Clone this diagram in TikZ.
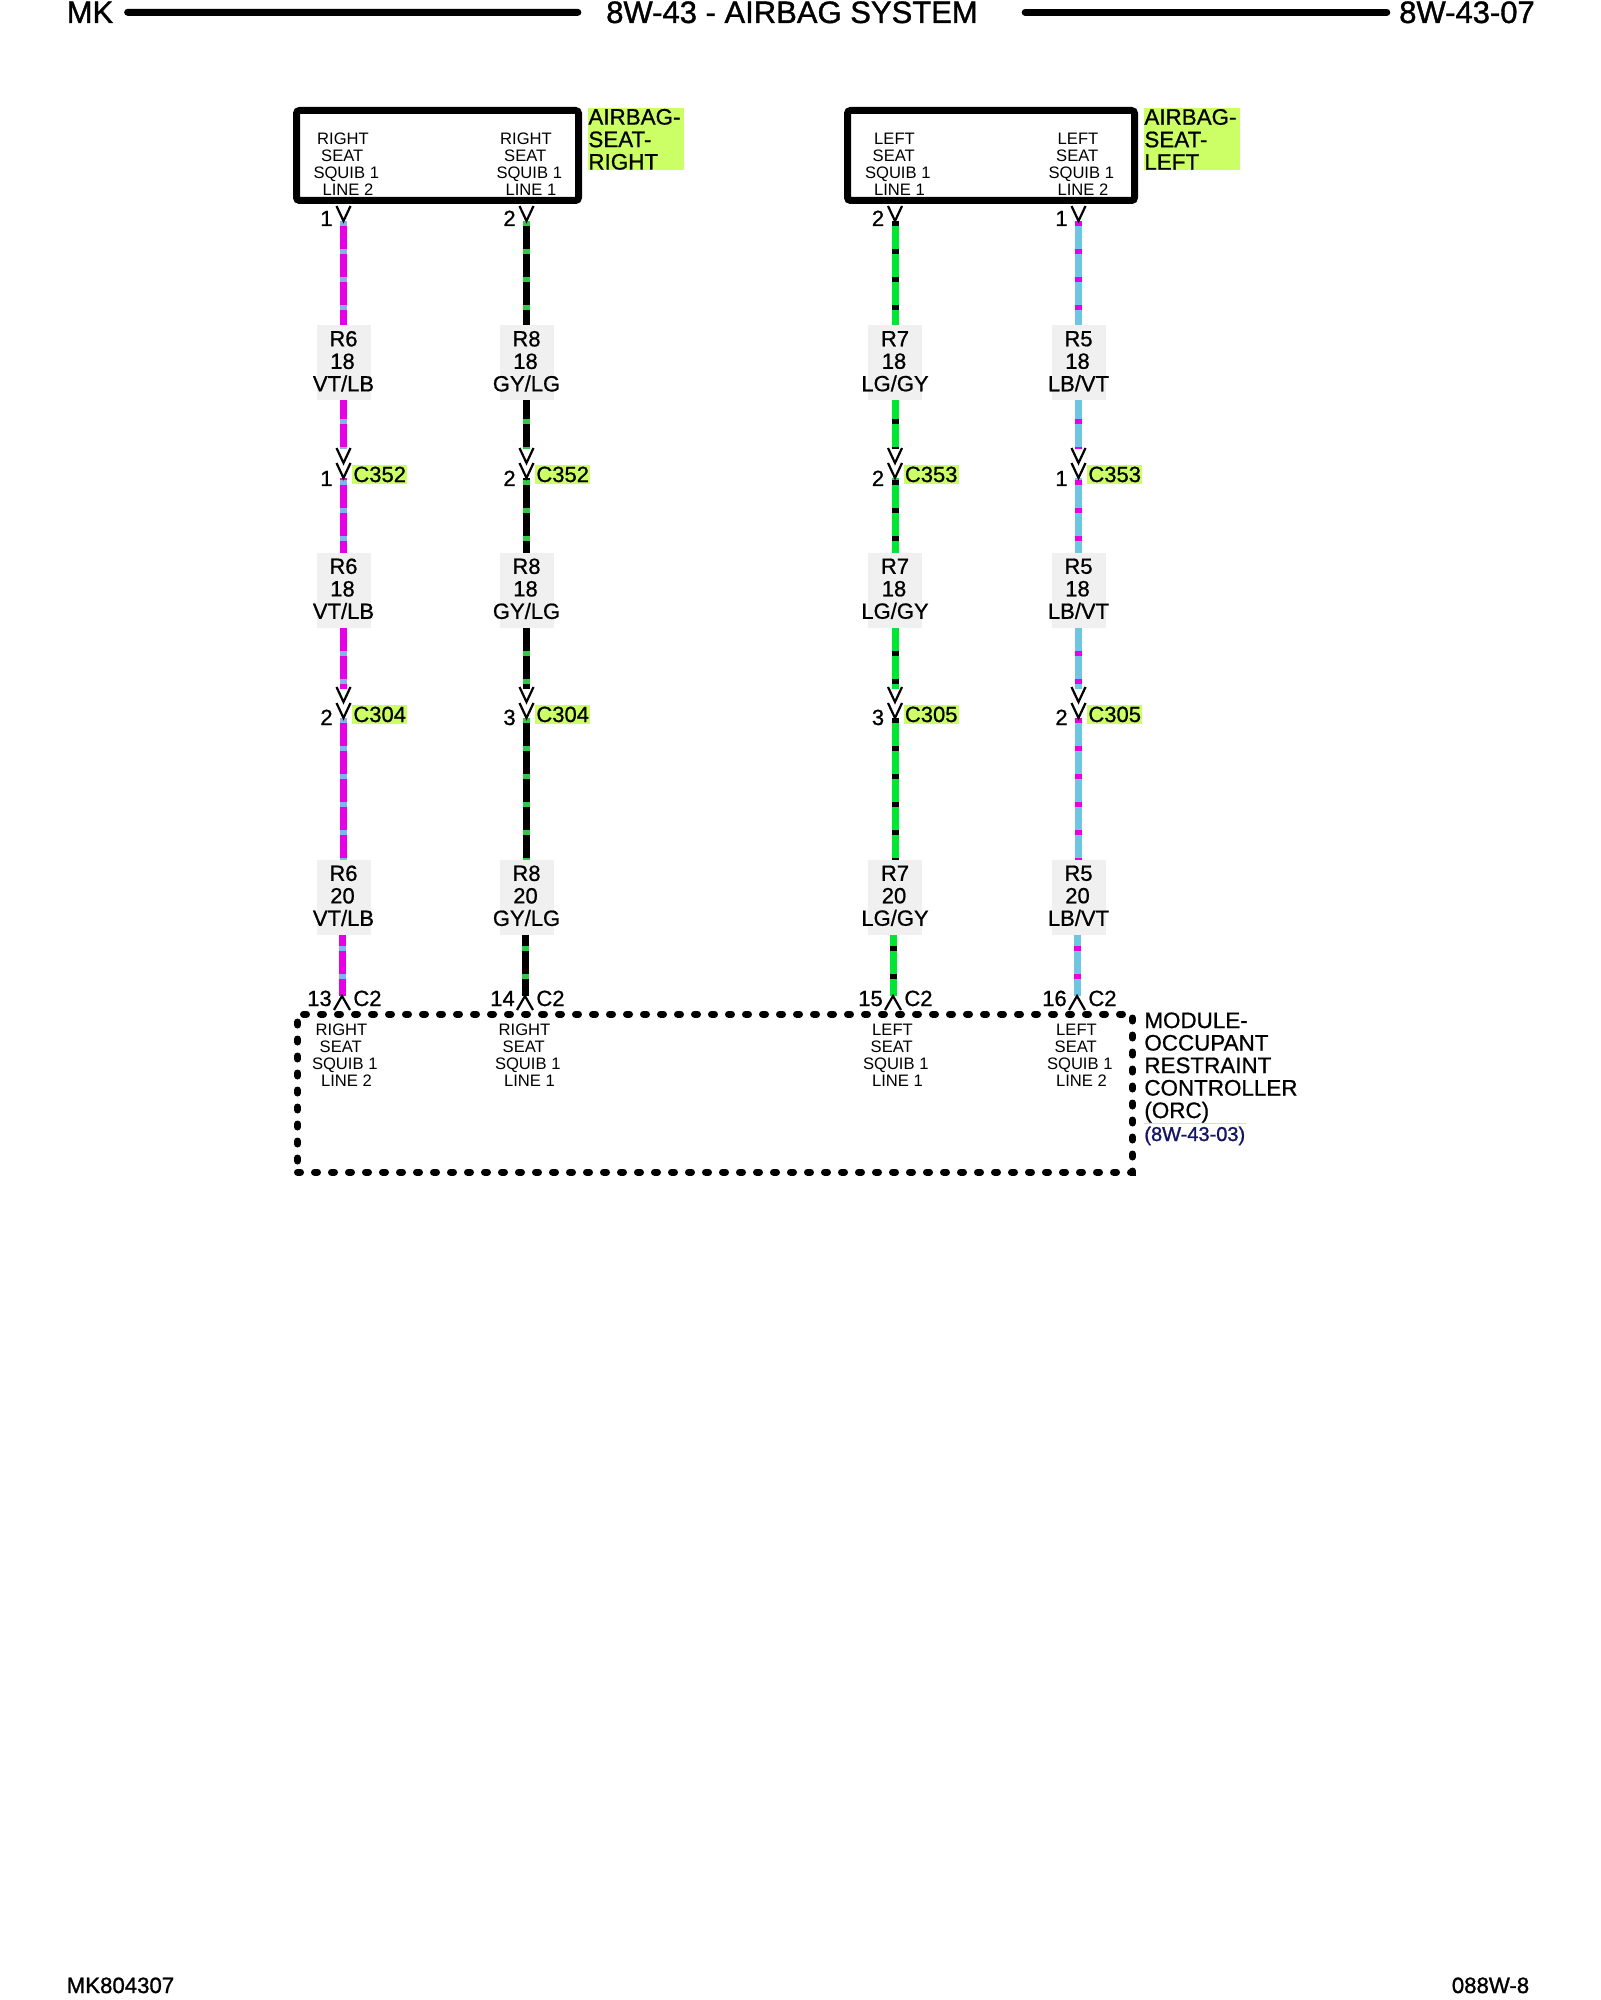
\documentclass[tikz,border=0pt]{standalone}
\usepackage{fontspec}
\setmainfont{Liberation Sans}
\newfontfamily\heavyfont[FakeBold=1.2]{Liberation Sans}
\newfontfamily\midfont[FakeBold=.8]{Liberation Sans}
\usetikzlibrary{positioning, calc}
\definecolor{magenta1}{RGB}{230, 0, 230}
\definecolor{blue1}{RGB}{110, 198, 224}
\definecolor{tick1}{RGB}{130, 180, 235}
\definecolor{green1}{RGB}{0, 230, 50}
\definecolor{green2}{RGB}{50, 200, 70}
\definecolor{lime1}{RGB}{204, 255, 102}
\definecolor{grey1}{RGB}{240, 240, 240}
\definecolor{navy1}{RGB}{20, 20, 100}
\definecolor{link1}{RGB}{215, 215, 245}
\newcommand{\shiftby}[2]{\hspace*{#1}#2\hspace*{-#1}}
\tikzset{
  seatbox/.style={draw, line width=3.5pt, rounded corners=1.5pt, inner sep=0pt, outer sep=0pt},
  orcbox/.style={draw, line width=3.5pt, line cap=round, dash pattern=on 1.5pt off 7pt, inner sep=0pt, outer sep=0pt},
  wire/.style={line width=3.5pt, draw=#1},
  tracer/.style={line width=3.5pt, draw=#1, dash pattern=on 2.5pt off 11.5pt},
  greybox/.style={fill=grey1, minimum width=27pt, minimum height=37.5pt, inner sep=0pt, outer sep=0pt},
  wiretext/.style={align=center, inner sep=0pt, yshift=.6pt, font=\midfont\fontsize{11}{11.25}\selectfont},
  pintext/.style={align=center, inner sep=0pt, font=\fontsize{8.3}{8.5}\selectfont},
  bigtext/.style={inner sep=0pt, anchor=base, font=\midfont\fontsize{11}{11.25}\selectfont},
  conntag/.style={fill=lime1, anchor=base west, inner xsep=.5pt, inner ysep=0pt, text height=8.6pt, text depth=1pt, font=\midfont\fontsize{11}{11.25}\selectfont},
  comptag/.style={fill=lime1, anchor=north west, inner sep=0pt, text width=48pt, minimum height=31pt, align=left, font=\midfont\fontsize{11.2}{11.25}\selectfont},
  headtext/.style={inner sep=0pt, anchor=base, font=\heavyfont\fontsize{15.5}{16}\selectfont},
  foottext/.style={inner sep=0pt, anchor=base, font=\heavyfont\fontsize{11.1}{12}\selectfont},
  headline/.style={line width=3.5pt, line cap=round},
  pics/vee/.style={code={\draw[line width=1.1pt] (-7,-15) -- (0,0) -- (7,-15);}},
  pics/hat/.style={code={\draw[line width=1.1pt] (-8,14) -- (0,0) -- (8,14);}},
}

\begin{document}
\begin{tikzpicture}[x=0.5pt, y=-0.5pt]
  \useasboundingbox (0,0) rectangle (1600,2000);

  % header
  \node[headtext] (mk) at (90,23) {MK};
  \node[headtext] (title) at (792,23) {8W-43 - AIRBAG SYSTEM};
  \node[headtext] (page) at (1467,23) {8W-43-07};
  \draw[headline] ($(mk.east)+(14,0)$ |- 0,11) coordinate (hla) -- ($(title.west)+(-28,0)$ |- 0,11) coordinate (hlb);
  \draw[headline] ($(title.east)+(47,0)$ |- 0,11) coordinate (hlc) -- ($(page.west)+(-12,0)$ |- 0,11) coordinate (hld);

  % footer
  \node[foottext] (figno) at (120.5,1993) {MK804307};
  \node[foottext] (sheet) at (1490.5,1993) {088W-8};

  % seat connectors
  \node[seatbox, minimum width=141pt, minimum height=45pt] (seatR) at (437.5,155.5) {};
  \node[seatbox, minimum width=143.5pt, minimum height=45pt] (seatL) at (991,155.5) {};
  \node[comptag] (seatRtag) at (588,108) {AIRBAG-\\SEAT-\\RIGHT};
  \node[comptag] (seatLtag) at (1144,108) {AIRBAG-\\SEAT-\\LEFT};

  % controller
  \node[orcbox, minimum width=417.5pt, minimum height=79pt] (orc) at (715,1093) {};
  \node[inner sep=0pt, anchor=north west, align=left, font=\midfont\fontsize{11.2}{11.25}\selectfont] (orctext) at (1144,1012) {MODULE-\\OCCUPANT\\RESTRAINT\\CONTROLLER\\(ORC)};
  \node[inner sep=0pt, anchor=base west, text=navy1, font=\heavyfont\fontsize{10}{11}\selectfont] (orcref) at (1144,1141) {(8W-43-03)};
  \draw[link1, line width=.4pt] ($(orcref.north west)+(0,-3)$) coordinate (rfa) -- ($(orcref.north east)+(0,-3)$) coordinate (rfb);

  % one column per circuit
  \foreach \n/\x/\xb/\wc/\tc/\wn/\wl/\pa/\pb/\pc/\pd/\ca/\cb/\sname/\sline in {
    1/343.5/342/magenta1/tick1/R6/{VT/LB}/1/1/2/13/C352/C304/RIGHT/LINE 2,
    2/526.5/525/black/green2/R8/{GY/LG}/2/2/3/14/C352/C304/RIGHT/LINE 1,
    3/895/893/green1/black/R7/{LG/GY}/2/2/3/15/C353/C305/LEFT/LINE 1,
    4/1078.5/1077/blue1/magenta1/R5/{LB/VT}/1/1/2/16/C353/C305/LEFT/LINE 2} {
    \coordinate (pa\n) at (\x,221);
    \coordinate (ca\n) at (\x,449);
    \coordinate (cb\n) at (\x,478);
    \coordinate (cc\n) at (\x,689);
    \coordinate (cd\n) at (\x,718);
    \coordinate (pe\n) at (\xb,996);
    \node[greybox] (ga\n) at (\x,362.5) {};
    \node[greybox] (gb\n) at (\x,590) {};
    \node[greybox] (gc\n) at (\x,897) {};
    \node[wiretext] (ta\n) at (ga\n) {\wn\\\shiftby{-1pt}{18}\\\wl};
    \node[wiretext] (tb\n) at (gb\n) {\wn\\\shiftby{-1pt}{18}\\\wl};
    \node[wiretext] (tc\n) at (gc\n) {\wn\\\shiftby{-1pt}{20}\\\wl};
    \foreach \from/\to/\ph in {pa\n/ga\n.north/0pt, ga\n.south/ca\n/4.5pt, cb\n/gb\n.north/13pt, gb\n.south/cc\n/2.5pt, cd\n/gc\n.north/0pt, gc\n.south -| pe\n/pe\n/8.5pt} {
      \draw[wire=\wc] (\from) -- (\to);
      \draw[tracer=\tc, dash phase=\ph] (\from) -- (\to);
    }
    \pic at (pa\n) {vee};
    \pic at (\x,463) {vee};
    \pic at (cb\n) {vee};
    \pic at (\x,702) {vee};
    \pic at (cd\n) {vee};
    \pic at (pe\n) {hat};
    \node[pintext] (st\n) at (\x,164) {\shiftby{-.25pt}{\sname}\\\shiftby{-1.25pt}{SEAT}\\\shiftby{2.75pt}{SQUIB 1}\\\shiftby{2.25pt}{\sline}};
    \node[pintext] (mt\n) at (\xb,1055) {\shiftby{-.25pt}{\sname}\\\shiftby{-1.25pt}{SEAT}\\\shiftby{2.75pt}{SQUIB 1}\\\shiftby{2.25pt}{\sline}};
    \node[bigtext] (na\n) at (\x-17,226) {\pa};
    \node[bigtext] (nb\n) at (\x-17,486) {\pb};
    \node[bigtext] (nc\n) at (\x-17,725) {\pc};
    \node[bigtext] (nd\n) at (\xb-22.5,1006) {\pd};
    \node[conntag] (la\n) at (\x+8.5,482) {\ca};
    \node[conntag] (lb\n) at (\x+8.5,722) {\cb};
    \node[bigtext, anchor=base west] (le\n) at (\xb+11,1006) {C2};
  }
\end{tikzpicture}
\end{document}
